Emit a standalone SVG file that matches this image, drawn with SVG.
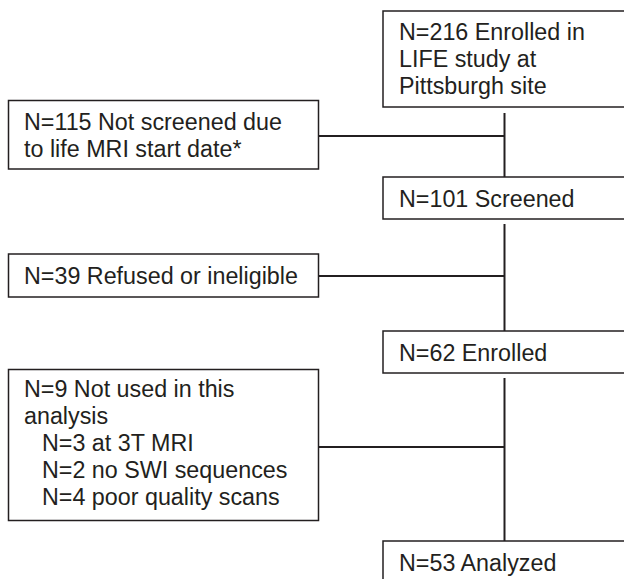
<svg xmlns="http://www.w3.org/2000/svg" width="624" height="579" viewBox="0 0 624 579">
<style>
.box{fill:#fff;stroke:#231f20;stroke-width:1.5}
.t{font-family:"Liberation Sans",Arial,sans-serif;font-size:23.3px;fill:#231f20}
.c{stroke:#231f20;stroke-width:2;fill:none}
</style>
<rect width="624" height="579" fill="#fff"/>
<g id="connectors">
<line class="c" x1="504.5" y1="113" x2="504.5" y2="177"/>
<line class="c" x1="318.5" y1="136" x2="504.5" y2="136"/>
<line class="c" x1="504.5" y1="224" x2="504.5" y2="331"/>
<line class="c" x1="318.5" y1="276" x2="504.5" y2="276"/>
<line class="c" x1="504.5" y1="378" x2="504.5" y2="541"/>
<line class="c" x1="318.5" y1="447" x2="504.5" y2="447"/>
</g>
<g id="n216">
<rect class="box" x="383" y="11" width="250" height="96"/>
<text class="t" x="399" y="40">N=216 Enrolled in</text>
<text class="t" x="399" y="67">LIFE study at</text>
<text class="t" x="399" y="94">Pittsburgh site</text>
</g>
<g id="n115">
<rect class="box" x="8.5" y="100.5" width="310" height="68.5"/>
<text class="t" x="24" y="130">N=115 Not screened due</text>
<text class="t" x="24" y="157">to life MRI start date*</text>
</g>
<g id="n101">
<rect class="box" x="383" y="177" width="250" height="42"/>
<text class="t" x="399" y="207">N=101 Screened</text>
</g>
<g id="n39">
<rect class="box" x="8.5" y="254" width="310" height="43"/>
<text class="t" x="24" y="284">N=39 Refused or ineligible</text>
</g>
<g id="n62">
<rect class="box" x="383" y="331" width="250" height="42"/>
<text class="t" x="399" y="361">N=62 Enrolled</text>
</g>
<g id="n9">
<rect class="box" x="8.5" y="369.5" width="310" height="151"/>
<text class="t" x="24" y="397">N=9 Not used in this</text>
<text class="t" x="24" y="424">analysis</text>
<text class="t" x="42" y="451">N=3 at 3T MRI</text>
<text class="t" x="42" y="478">N=2 no SWI sequences</text>
<text class="t" x="42" y="505">N=4 poor quality scans</text>
</g>
<g id="n53">
<rect class="box" x="383" y="541" width="250" height="60"/>
<text class="t" x="399" y="571">N=53 Analyzed</text>
</g>
</svg>
